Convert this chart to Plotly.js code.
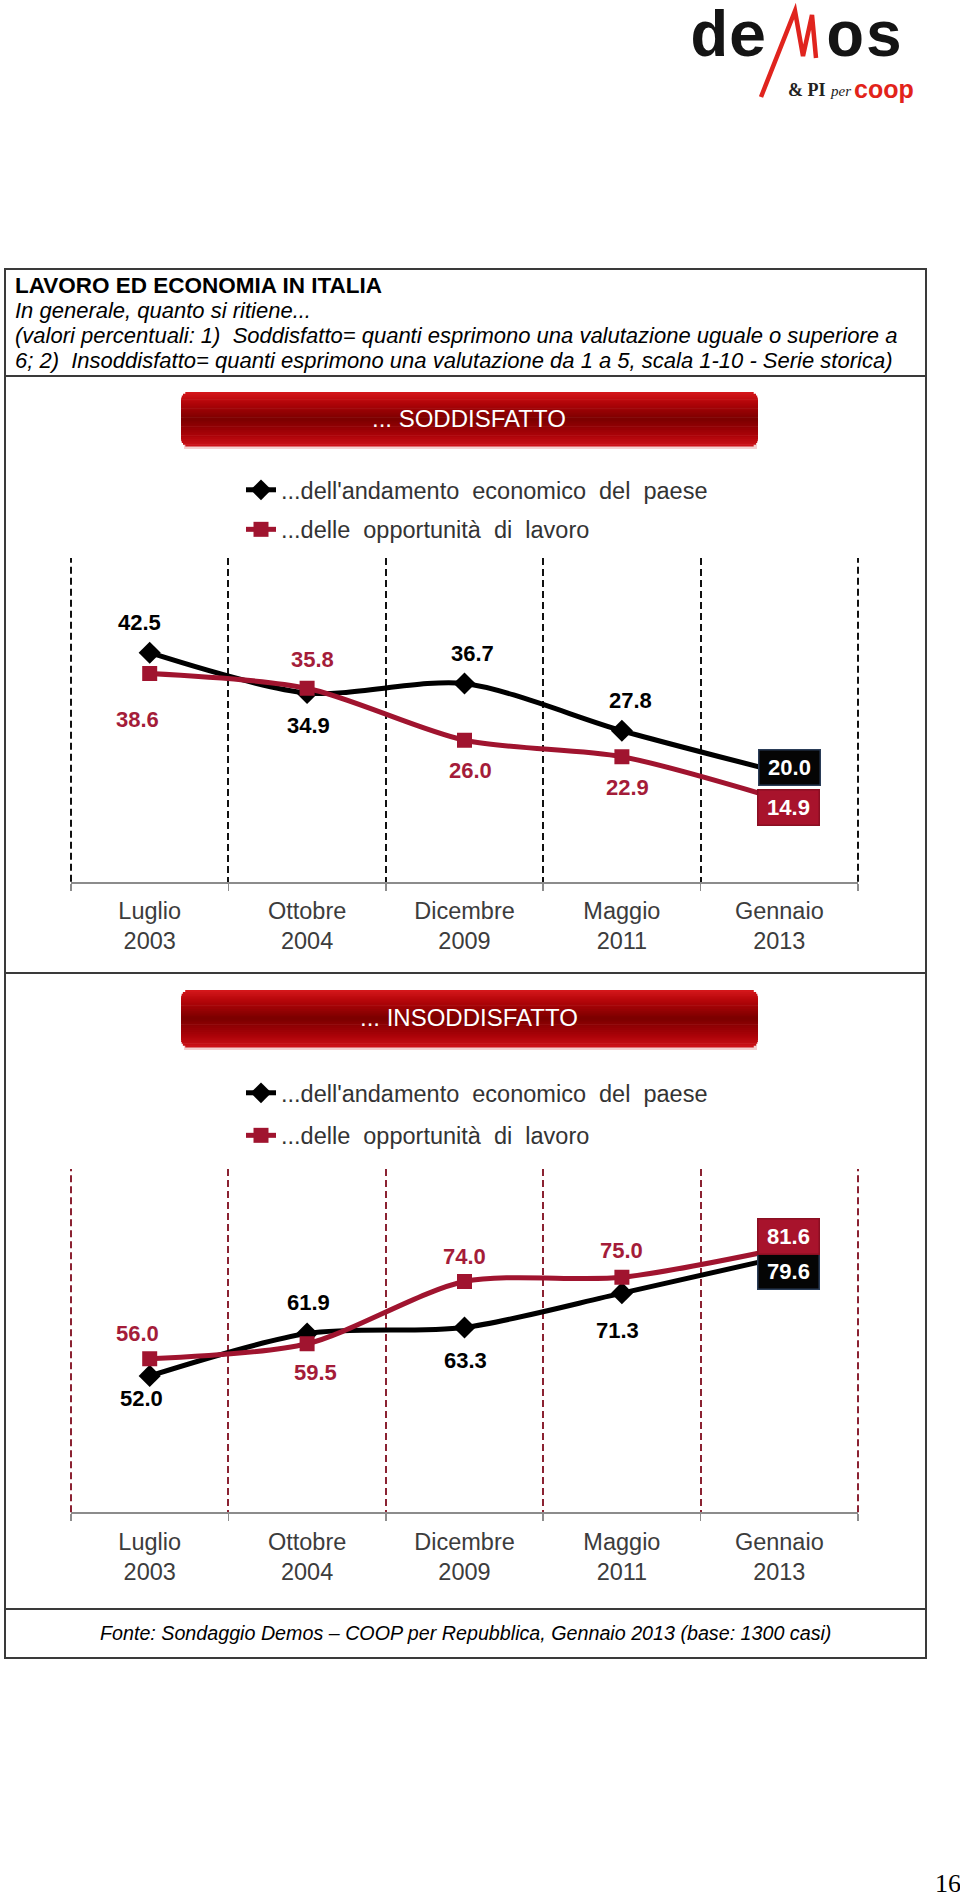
<!DOCTYPE html>
<html><head><meta charset="utf-8">
<script src="https://cdn.plot.ly/plotly-3.0.1.min.js"></script>
<style>html,body{margin:0;padding:0;background:#fff;} #chart{width:960px;height:1897px;}</style>
</head><body><div id="chart"></div>
<script>
// ---------------- DATA ----------------
const months = ['Luglio', 'Ottobre', 'Dicembre', 'Maggio', 'Gennaio'];
const years = ['2003', '2004', '2009', '2011', '2013'];
const soddEconomia = [42.5, 34.9, 36.7, 27.8, 20.0];
const soddLavoro = [38.6, 35.8, 26.0, 22.9, 14.9];
const insoddEconomia = [52.0, 61.9, 63.3, 71.3, 79.6];
const insoddLavoro = [56.0, 59.5, 74.0, 75.0, 81.6];
const seriesNames = ["...dell'andamento\u00a0 economico\u00a0 del\u00a0 paese", "...delle\u00a0 opportunità\u00a0 di\u00a0 lavoro"];
const panelTitles = ['... SODDISFATTO', '... INSODDISFATTO'];
const pageTitle = 'LAVORO ED ECONOMIA IN ITALIA';
const subtitleLines = [
  'In generale, quanto si ritiene...',
  '(valori percentuali: 1)\u00a0 Soddisfatto= quanti esprimono una valutazione uguale o superiore a',
  '6; 2)\u00a0 Insoddisfatto= quanti esprimono una valutazione da 1 a 5, scala 1-10 - Serie storica)'
];
const sourceNote = 'Fonte: Sondaggio Demos \u2013 COOP per Repubblica, Gennaio 2013 (base: 1300 casi)';
const pageNumber = '16';

const categories = months.map((m, i) => m + '<br>' + years[i]);

// ---------------- STYLE ----------------
const W = 960, H = 1897;
const px = x => x / W;
const py = y => 1 - y / H;
const FONT = 'Liberation Sans, Arial, sans-serif';
const BLACK = '#000000';
const RED = '#a0142f';
const RED_TXT = '#a41c39';
const GRAY = '#8c8c8c';
const GRID1 = '#111111';
const GRID2 = '#8b2232';
const DASH = '7px,4px';
const PLOT_L = 71, PLOT_R = 858;
const P1 = {top: 558, bottom: 881.7}, P2 = {top: 1169, bottom: 1512.3};

// label offsets [xshift, yshift] in px
const offSE = [[-10, 30], [1, -32], [8, 30], [9, 30], [10, 5]];
const offSL = [[-12, -46], [5, 29], [6, -30], [6, -31], [9, -8]];
const offIE = [[-8, -23], [1, 31], [1, -33], [-4, -37], [9, -14]];
const offIL = [[-12, 25], [8, -29], [0, 25], [0, 27], [9, 12]];

function trace(vals, name, axX, axY, legend, group, isRed) {
  return {
    x: categories, y: vals, xaxis: axX, yaxis: axY, name: name,
    legend: legend, legendgroup: group, type: 'scatter', mode: 'lines+markers',
    line: {color: isRed ? RED : BLACK, width: 5, shape: 'spline', smoothing: 0.8},
    marker: {symbol: isRed ? 'square' : 'diamond', size: isRed ? 15 : 17, color: isRed ? RED : BLACK},
    hoverinfo: 'skip'
  };
}

function labels(vals, offs, xr, yr, color, boxColor, boxBorder) {
  return vals.map((v, i) => {
    const last = i === vals.length - 1;
    const a = {
      xref: xr, yref: yr, x: categories[i], y: v, text: v.toFixed(1), showarrow: false,
      xshift: offs[i][0], yshift: offs[i][1],
      font: {family: FONT, size: 22, weight: 'bold', color: last ? '#ffffff' : color}
    };
    if (last) Object.assign(a, {bgcolor: boxColor, bordercolor: boxBorder, borderwidth: 1.5, borderpad: 1, width: 58, height: 32});
    return a;
  });
}

function xAxis(gridColor, anchor) {
  return {
    domain: [px(PLOT_L), px(PLOT_R)], anchor: anchor, type: 'category', range: [-0.5, 4.5],
    tickson: 'boundaries', ticks: 'outside', ticklen: 7, tickwidth: 1.5, tickcolor: GRAY,
    showline: true, linecolor: GRAY, linewidth: 2,
    showgrid: true, gridcolor: gridColor, gridwidth: 2, griddash: DASH,
    tickfont: {family: FONT, size: 23.5, color: '#3c3c3c'}, ticklabelstandoff: 7,
    zeroline: false, fixedrange: true
  };
}
function yAxis(p, range, anchor) {
  return {
    domain: [py(p.bottom), py(p.top)], range: range, anchor: anchor,
    showgrid: false, zeroline: false, showline: false, showticklabels: false, ticks: '', fixedrange: true
  };
}
// dashed separators at the two outer plot edges (inner ones are the axis grid)
function edgeLines(p, color) {
  return [PLOT_L, PLOT_R].map(x => ({
    type: 'line', xref: 'paper', yref: 'paper', x0: px(x), x1: px(x), y0: py(p.bottom), y1: py(p.top),
    line: {color: color, width: 2, dash: DASH}, layer: 'below'
  }));
}

function lerp(a, b, t) { return a.map((v, i) => Math.round(v + (b[i] - v) * t)); }
function bannerColor(t) {
  const stops = [[0, [214, 24, 28]], [0.2, [178, 4, 8]], [0.5, [122, 0, 0]], [0.8, [170, 2, 8]], [1, [205, 18, 24]]];
  for (let i = 0; i < stops.length - 1; i++) {
    if (t <= stops[i + 1][0]) {
      const c = lerp(stops[i][1], stops[i + 1][1], (t - stops[i][0]) / (stops[i + 1][0] - stops[i][0]));
      return 'rgb(' + c.join(',') + ')';
    }
  }
  return 'rgb(205,18,24)';
}
function bannerShapes(x0, y0, x1, y1) {
  const out = [];
  const r = 8, n = 30, h = y1 - y0;
  out.push({type: 'rect', xref: 'paper', yref: 'paper', x0: px(x0 + 3), x1: px(x1 - 1), y0: py(y1 + 3), y1: py(y0 + 4),
    fillcolor: 'rgba(220,120,120,0.35)', line: {width: 0}, layer: 'below'});
  for (let i = 0; i < n; i++) {
    const ya = y0 + h * i / n, yb = y0 + h * (i + 1) / n, ym = (ya + yb) / 2;
    let inset = 0;
    if (ym - y0 < r) { const d = r - (ym - y0); inset = r - Math.sqrt(Math.max(0, r * r - d * d)); }
    if (y1 - ym < r) { const d = r - (y1 - ym); inset = r - Math.sqrt(Math.max(0, r * r - d * d)); }
    out.push({type: 'rect', xref: 'paper', yref: 'paper', x0: px(x0 + inset), x1: px(x1 - inset),
      y0: py(yb + 0.6), y1: py(ya), fillcolor: bannerColor((ym - y0) / h), line: {width: 0}, layer: 'below'});
  }
  return out;
}
function hline(y, x0, x1) {
  return {type: 'line', xref: 'paper', yref: 'paper', x0: px(x0), x1: px(x1), y0: py(y), y1: py(y), line: {color: '#3a3a3a', width: 2}};
}
function txt(text, x, y, opts) {
  return Object.assign({xref: 'paper', yref: 'paper', x: px(x), y: py(y), text: text, showarrow: false,
    xanchor: 'left', yanchor: 'middle', font: {family: FONT, size: 19, color: '#000'}}, opts || {});
}

// ---------------- FIGURE ----------------
const data = [
  trace(soddEconomia, seriesNames[0], 'x', 'y', 'legend', 'a', false),
  trace(soddLavoro, seriesNames[1], 'x', 'y', 'legend', 'b', true),
  trace(insoddEconomia, seriesNames[0], 'x2', 'y2', 'legend2', 'c', false),
  trace(insoddLavoro, seriesNames[1], 'x2', 'y2', 'legend2', 'd', true)
];

const shapes = [].concat(
  [{type: 'rect', xref: 'paper', yref: 'paper', x0: px(5), x1: px(926), y0: py(1658), y1: py(269), line: {color: '#3a3a3a', width: 2}}],
  [hline(376, 5, 926), hline(973, 5, 926), hline(1609, 5, 926)],
  bannerShapes(181, 392, 758, 446),
  bannerShapes(181, 990, 758, 1047),
  edgeLines(P1, GRID1),
  edgeLines(P2, GRID2),
  [{type: 'path', xref: 'paper', yref: 'paper',
    path: 'M' + px(761) + ',' + py(97) + ' L' + px(795) + ',' + py(11) + ' L' + px(803) + ',' + py(56) +
          ' L' + px(812) + ',' + py(15) + ' L' + px(816) + ',' + py(58),
    line: {color: '#e0241e', width: 4.5}}]
);

const LOGO_FONT = {family: 'Liberation Mono, Courier New, monospace', size: 64, weight: 'bold', color: '#141414'};
const annotations = [].concat(
  [txt(pageTitle, 13, 285, {font: {family: FONT, size: 22.5, weight: 'bold', color: '#000'}})],
  subtitleLines.map((t, i) => txt(t, 13, 311 + i * 24.5, {font: {family: FONT, size: 22, style: 'italic', color: '#000'}})),
  [txt(sourceNote, 465, 1633, {xanchor: 'center', font: {family: FONT, size: 19.7, style: 'italic', color: '#000'}})],
  [txt(pageNumber, 933, 1883, {font: {family: 'Liberation Serif, Times New Roman, serif', size: 26, color: '#000'}})],
  [txt(panelTitles[0], 469, 418, {xanchor: 'center', font: {family: FONT, size: 24, color: '#ffffff'}}),
   txt(panelTitles[1], 469, 1017, {xanchor: 'center', font: {family: FONT, size: 24, color: '#ffffff'}})],
  // logo
  [txt('de', 688, 1, {yanchor: 'top', font: LOGO_FONT}),
   txt('os', 824, 1, {yanchor: 'top', font: LOGO_FONT}),
   txt('& PI', 786, 90, {font: {family: 'Liberation Serif, serif', size: 18, weight: 'bold', color: '#222'}}),
   txt('per', 828, 91, {font: {family: 'Liberation Serif, serif', size: 15, style: 'italic', color: '#222'}}),
   txt('coop', 852, 89, {font: {family: FONT, size: 25, weight: 'bold', color: '#e2231a'}})],
  labels(soddEconomia, offSE, 'x', 'y', BLACK, '#050505', '#2a3d58'),
  labels(soddLavoro, offSL, 'x', 'y', RED_TXT, '#a8132c', '#8a0f22'),
  labels(insoddEconomia, offIE, 'x2', 'y2', BLACK, '#050505', '#2a3d58'),
  labels(insoddLavoro, offIL, 'x2', 'y2', RED_TXT, '#a8132c', '#8a0f22')
);

const layout = {
  width: W, height: H, margin: {l: 0, r: 0, t: 0, b: 0},
  paper_bgcolor: '#ffffff', plot_bgcolor: 'rgba(0,0,0,0)',
  font: {family: FONT},
  xaxis: xAxis(GRID1, 'y'),
  yaxis: yAxis(P1, [-0.65, 60.35], 'x'),
  xaxis2: xAxis(GRID2, 'y2'),
  yaxis2: yAxis(P2, [20.2, 100.25], 'x2'),
  showlegend: true,
  legend: {x: px(241), y: py(468), xanchor: 'left', yanchor: 'top', bgcolor: 'rgba(0,0,0,0)',
    font: {family: FONT, size: 23.5, color: '#333333'}, traceorder: 'grouped', tracegroupgap: 6},
  legend2: {x: px(241), y: py(1071), xanchor: 'left', yanchor: 'top', bgcolor: 'rgba(0,0,0,0)',
    font: {family: FONT, size: 23.5, color: '#333333'}, traceorder: 'grouped', tracegroupgap: 9},
  shapes: shapes,
  annotations: annotations
};

Plotly.newPlot('chart', data, layout, {displayModeBar: false, staticPlot: true});
</script>
</body></html>
